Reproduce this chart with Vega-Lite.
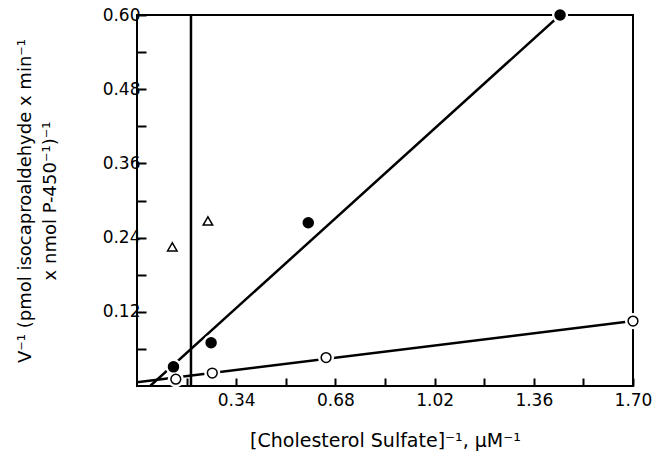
{
  "$schema": "https://vega.github.io/schema/vega-lite/v6.json",
  "width": 496,
  "height": 371,
  "autosize": {"type": "none"},
  "padding": {"left": 137, "top": 15, "right": 19, "bottom": 67},
  "background": "white",
  "config": {
    "view": {"stroke": "black", "strokeWidth": 2},
    "font": "DejaVu Sans",
    "axis": {
      "domain": false,
      "grid": false,
      "tickColor": "black",
      "tickWidth": 2,
      "labelColor": "black",
      "titleColor": "black",
      "labelFont": "DejaVu Sans",
      "titleFont": "DejaVu Sans",
      "labelFlush": false,
      "titleFontWeight": "normal"
    }
  },
  "datasets": {
    "fits": [
      {"series": "filled", "x": 0.045, "y": 0.0},
      {"series": "filled", "x": 1.45, "y": 0.60},
      {"series": "open", "x": 0.0, "y": 0.006},
      {"series": "open", "x": 1.70, "y": 0.105}
    ],
    "vline": [{"x": 0.185}],
    "points": [
      {"series": "filled", "x": 0.125, "y": 0.031},
      {"series": "filled", "x": 0.254, "y": 0.070},
      {"series": "filled", "x": 0.587, "y": 0.264},
      {"series": "filled", "x": 1.450, "y": 0.600},
      {"series": "open", "x": 0.133, "y": 0.011},
      {"series": "open", "x": 0.258, "y": 0.021},
      {"series": "open", "x": 0.648, "y": 0.046},
      {"series": "open", "x": 1.700, "y": 0.105},
      {"series": "triangle", "x": 0.121, "y": 0.225},
      {"series": "triangle", "x": 0.243, "y": 0.267}
    ]
  },
  "encoding": {
    "x": {
      "field": "x", "type": "quantitative",
      "scale": {"domain": [0, 1.7], "nice": false, "zero": false},
      "axis": {
        "values": [0.17, 0.34, 0.51, 0.68, 0.85, 1.02, 1.19, 1.36, 1.53, 1.7],
        "labelExpr": "round(datum.value*100) % 34 == 0 ? format(datum.value, '.2f') : ''",
        "tickSize": -8,
        "labelPadding": 14,
        "labelFontSize": 17,
        "title": "[Cholesterol Sulfate]⁻¹, μM⁻¹",
        "titleFontSize": 19,
        "titlePadding": 23
      }
    },
    "y": {
      "field": "y", "type": "quantitative",
      "scale": {"domain": [0, 0.6], "nice": false, "zero": false},
      "axis": {
        "values": [0.06, 0.12, 0.18, 0.24, 0.30, 0.36, 0.42, 0.48, 0.54, 0.60],
        "labelExpr": "round(datum.value*100) % 12 == 0 ? format(datum.value, '.2f') : ''",
        "tickSize": -9,
        "labelPadding": 6,
        "labelFontSize": 17,
        "title": ["V⁻¹ (pmol isocaproaldehyde x min⁻¹", "x nmol P-450⁻¹)⁻¹"],
        "titleFontSize": 18,
        "titleLineHeight": 25,
        "titlePadding": 43
      }
    }
  },
  "layer": [
    {
      "data": {"name": "vline"},
      "mark": {"type": "rule", "color": "black", "strokeWidth": 2.5},
      "encoding": {"y": null}
    },
    {
      "data": {"name": "fits"},
      "mark": {"type": "line", "color": "black", "strokeWidth": 2.5, "clip": true},
      "encoding": {"detail": {"field": "series"}}
    },
    {
      "data": {"name": "points"},
      "transform": [{"filter": "datum.series != 'triangle'"}],
      "mark": {"type": "point", "shape": "circle", "filled": true, "color": "white", "size": 260, "opacity": 1, "clip": false}
    },
    {
      "data": {"name": "points"},
      "mark": {"type": "point", "strokeWidth": 1.5, "opacity": 1, "clip": false},
      "encoding": {
        "shape": {"field": "series", "type": "nominal", "scale": {"domain": ["filled", "open", "triangle"], "range": ["circle", "circle", "triangle-up"]}, "legend": null},
        "fill": {"field": "series", "type": "nominal", "scale": {"domain": ["filled", "open", "triangle"], "range": ["black", "white", "white"]}, "legend": null},
        "stroke": {"value": "black"},
        "size": {"field": "series", "type": "nominal", "scale": {"domain": ["filled", "open", "triangle"], "range": [100, 90, 45]}, "legend": null}
      }
    }
  ]
}
